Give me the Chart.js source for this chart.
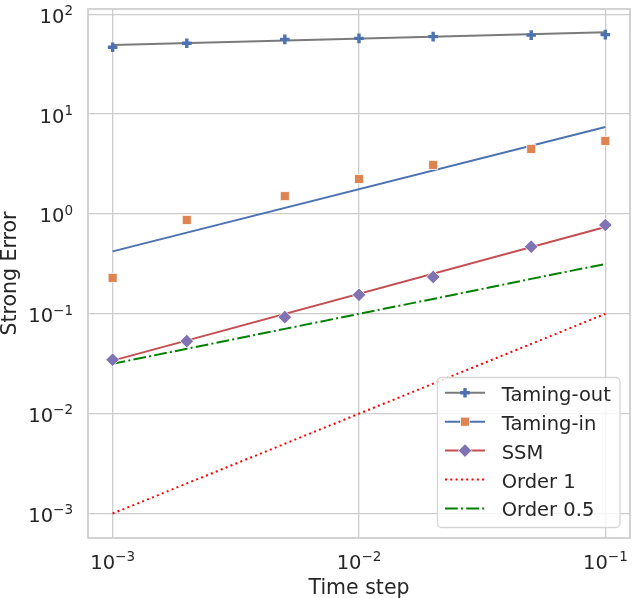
<!DOCTYPE html>
<html>
<head>
<meta charset="utf-8">
<script src="https://cdn.jsdelivr.net/npm/chart.js@4/dist/chart.umd.min.js"></script>
<style>
  html, body { margin: 0; padding: 0; background: #fff; }
  canvas { display: block; }
</style>
</head>
<body>
<canvas id="chart" width="634" height="598"></canvas>
<script>
// values
const timeSteps = [0.001, 0.002, 0.005, 0.01, 0.02, 0.05, 0.1];
const tamingOut = [46.7, 51.2, 56.1, 57.4, 59.7, 61.8, 62.6];
const tamingIn = [0.229, 0.871, 1.51, 2.24, 3.10, 4.48, 5.39];
const ssm = [0.0347, 0.0533, 0.0927, 0.155, 0.234, 0.470, 0.776];

// fitted lines (straight in log-log, so two ends are enough)
const fitSteps = [0.001, 0.1];
const tamingOutFit = [49.2, 66.1];
const tamingInFit = [0.422, 7.44];
const ssmFit = [0.034, 0.741];

// reference slopes
const order1 = [0.001, 0.002, 0.005, 0.01, 0.02, 0.05, 0.1];
const order05 = [0.0316, 0.0447, 0.0707, 0.1, 0.141, 0.224, 0.316];

const xTicks = [0.001, 0.01, 0.1];
const yTicks = [0.001, 0.01, 0.1, 1, 10, 100];

const TEXT = '#262626';
const FONT = '"DejaVu Sans", sans-serif';

const xy = (xs, ys) => xs.map((x, i) => ({x: x, y: ys[i]}));

let datasets = [
  {label: 'Taming-out', data: xy(timeSteps, tamingOut), showLine: false,
   pointStyle: 'cross', pointRadius: 4.8, pointBorderWidth: 3.4,
   pointBorderColor: '#4c72b0', pointBackgroundColor: '#4c72b0'},
  {label: 'Taming-in', data: xy(timeSteps, tamingIn), showLine: false,
   pointStyle: 'rect', pointRadius: 6.4, pointBorderWidth: 0.8,
   pointBorderColor: '#ffffff', pointBackgroundColor: '#dd8452'},
  {label: 'SSM', data: xy(timeSteps, ssm), showLine: false,
   pointStyle: 'rectRot', pointRadius: 6.8, pointBorderWidth: 0.8,
   pointBorderColor: '#ffffff', pointBackgroundColor: '#8172b3'},
  {label: 'Taming-out fit', data: xy(fitSteps, tamingOutFit), showLine: true,
   pointRadius: 0, borderColor: '#7a7a7a', borderWidth: 2},
  {label: 'Taming-in fit', data: xy(fitSteps, tamingInFit), showLine: true,
   pointRadius: 0, borderColor: '#4c72b0', borderWidth: 2},
  {label: 'SSM fit', data: xy(fitSteps, ssmFit), showLine: true,
   pointRadius: 0, borderColor: '#c44e52', borderWidth: 2},
  {label: 'Order 1', data: xy(timeSteps, order1), showLine: true,
   pointRadius: 0, borderColor: '#ff0000', borderWidth: 2, borderDash: [2, 3.3]},
  {label: 'Order 0.5', data: xy(timeSteps, order05), showLine: true,
   pointRadius: 0, borderColor: '#008000', borderWidth: 2, borderDash: [12.8, 3.2, 2, 3.2]}
];

// legend rows: [text, line dataset, marker dataset]
let legendRows = [
  ['Taming-out', 3, 0],
  ['Taming-in', 4, 1],
  ['SSM', 5, 2],
  ['Order 1', 6, null],
  ['Order 0.5', 7, null]
];

function drawPow(ctx, value, x, y, align) {
  let exp = Math.round(Math.log10(value));
  let sup = (exp < 0 ? '\u2212' : '') + Math.abs(exp);
  ctx.font = '19.5px ' + FONT;
  let wb = ctx.measureText('10').width;
  ctx.font = '13.5px ' + FONT;
  let ws = ctx.measureText(sup).width;
  let start = align === 'right' ? x - wb - ws : x - (wb + ws) / 2;
  ctx.textAlign = 'left';
  ctx.textBaseline = 'alphabetic';
  ctx.font = '19.5px ' + FONT;
  ctx.fillText('10', start, y);
  ctx.font = '13.5px ' + FONT;
  ctx.fillText(sup, start + wb, y - 7.6);
}

const decor = {
  id: 'decor',
  afterDatasetsDraw(chart) {
    let ctx = chart.ctx;
    let a = chart.chartArea;
    ctx.save();
    ctx.strokeStyle = '#cccccc';
    ctx.lineWidth = 1.7;
    ctx.strokeRect(a.left, a.top, a.right - a.left, a.bottom - a.top);
    ctx.restore();
  },
  afterDraw(chart) {
    let ctx = chart.ctx;
    let a = chart.chartArea;
    let xs = chart.scales.x, ys = chart.scales.y;
    ctx.save();
    ctx.fillStyle = TEXT;

    // tick labels
    xTicks.forEach(v => drawPow(ctx, v, xs.getPixelForValue(v), 568.5, 'center'));
    yTicks.forEach(v => drawPow(ctx, v, 73, ys.getPixelForValue(v) + 8.4, 'right'));

    // axis titles
    ctx.font = '20.5px ' + FONT;
    ctx.textAlign = 'center';
    ctx.textBaseline = 'alphabetic';
    ctx.fillText('Time step', (a.left + a.right) / 2, 594);
    ctx.save();
    ctx.translate(15.5, (a.top + a.bottom) / 2);
    ctx.rotate(-Math.PI / 2);
    ctx.fillText('Strong Error', 0, 0);
    ctx.restore();

    // legend
    ctx.beginPath();
    ctx.roundRect(437.5, 377.5, 182.5, 150, 4);
    ctx.fillStyle = 'rgba(255,255,255,0.8)';
    ctx.fill();
    ctx.strokeStyle = '#d6d6d6';
    ctx.lineWidth = 1.3;
    ctx.stroke();

    legendRows.forEach((row, i) => {
      let y = 392.8 + i * 28.9;
      let line = datasets[row[1]];
      ctx.save();
      ctx.strokeStyle = line.borderColor;
      ctx.lineWidth = line.borderWidth;
      ctx.setLineDash(line.borderDash || []);
      ctx.beginPath();
      ctx.moveTo(445, y);
      ctx.lineTo(485, y);
      ctx.stroke();
      ctx.restore();
      if (row[2] !== null) {
        let m = datasets[row[2]];
        ctx.save();
        ctx.fillStyle = m.pointBackgroundColor;
        ctx.strokeStyle = m.pointBorderColor;
        ctx.lineWidth = m.pointBorderWidth;
        Chart.helpers.drawPoint(ctx, {
          pointStyle: m.pointStyle, radius: m.pointRadius,
          borderWidth: m.pointBorderWidth, rotation: 0
        }, 465, y);
        ctx.restore();
      }
      ctx.fillStyle = TEXT;
      ctx.font = '19.5px ' + FONT;
      ctx.textAlign = 'left';
      ctx.fillText(row[0], 501.7, y + 8);
    });
    ctx.restore();
  }
};

let chart = new Chart(document.getElementById('chart'), {
  type: 'scatter',
  data: {datasets: datasets},
  options: {
    responsive: false,
    animation: false,
    events: [],
    layout: {autoPadding: false, padding: {left: 0, right: 4, top: 9, bottom: 0}},
    plugins: {legend: {display: false}, tooltip: {enabled: false}},
    elements: {line: {tension: 0, fill: false}},
    scales: {
      x: {
        type: 'logarithmic',
        min: Math.pow(10, -3.1),
        max: Math.pow(10, -0.9),
        afterBuildTicks: (scale) => { scale.ticks = xTicks.map(v => ({value: v})); },
        afterFit: (scale) => { scale.height = 60; },
        ticks: {display: false},
        grid: {color: '#cccccc', lineWidth: 1.3, drawTicks: false},
        border: {display: false}
      },
      y: {
        type: 'logarithmic',
        min: Math.pow(10, -3.245),
        max: Math.pow(10, 2.053),
        afterBuildTicks: (scale) => { scale.ticks = yTicks.map(v => ({value: v})); },
        afterFit: (scale) => { scale.width = 88; },
        ticks: {display: false},
        grid: {color: '#cccccc', lineWidth: 1.3, drawTicks: false},
        border: {display: false}
      }
    }
  },
  plugins: [decor]
});
</script>
</body>
</html>
